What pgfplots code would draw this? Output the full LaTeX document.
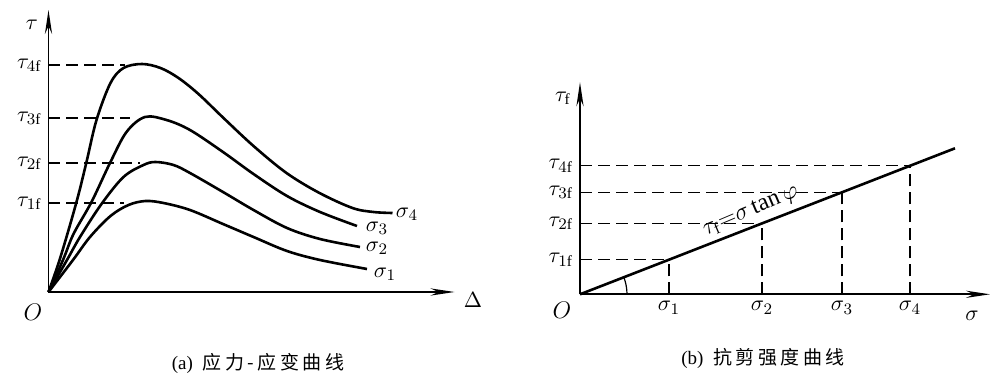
\documentclass[border=0pt]{standalone}
\usepackage{fontspec}
\setmainfont{Liberation Serif}
\newfontfamily\cjk[LetterSpace=18]{Noto Sans CJK SC}
\usepackage{pgfplots}
\pgfplotsset{compat=1.18}
\usetikzlibrary{arrows.meta}

\pgfplotsset{
  schem/.style={
    x=0.5pt, y=0.5pt,
    axis lines=middle,
    enlargelimits=false,
    clip=false,
    axis line style={line width=0.8pt, -{Stealth[length=12pt,width=3.6pt]}},
    major tick length=0pt,
    tick label style={font=\fontsize{11}{13}\selectfont},
    anchor=south west,
  },
  curve/.style={line width=1.3pt, smooth, tension=0.55, black, no marks},
  dsh/.style={line width=0.7pt, dash pattern=on 6pt off 3pt, black, no marks},
}

\begin{document}
\begin{tikzpicture}[x=1pt,y=1pt]
\useasboundingbox (0,0) rectangle (504,192.5);

% ---------------- (a) stress-strain curves ----------------
\begin{axis}[schem, at={(24.25pt,46.5pt)},
  xmin=0, xmax=406, ymin=0, ymax=282,
  xtick=\empty,
  ytick={89,129,174,227},
  yticklabels={$\tau_{1\mathrm{f}}$,$\tau_{2\mathrm{f}}$,$\tau_{3\mathrm{f}}$,$\tau_{4\mathrm{f}}$},
]
\addplot[dsh] coordinates {(0,227) (77,227)};
\addplot[dsh] coordinates {(0,174) (82,174)};
\addplot[dsh] coordinates {(0,129) (92,129)};
\addplot[dsh] coordinates {(0,89) (76,89)};

\addplot[curve] coordinates {(0,0) (12,35) (28,90) (38,130) (48,172) (62,209) (75,224) (93.5,228) (112,224) (130,214) (150,198) (175,174) (205,146) (238,119) (271,99) (304,84) (325,80) (344,79)};
\addplot[curve] coordinates {(0,0) (14.5,32) (25,58) (43,90) (61.5,129) (78,160) (96.5,175) (118,172) (141.5,162) (174.5,140) (205,118) (238.5,96) (271.5,80) (308.5,66)};
\addplot[curve] coordinates {(0,0) (18.5,32) (31.5,55) (53,88) (75,115) (95,127) (107,130) (125,127) (141.5,119) (174.5,100) (205,82) (238.5,64) (271.5,53) (311.5,45)};
\addplot[curve] coordinates {(0,0) (24.5,32) (41.5,55) (62,76) (80,87) (97,91) (115,89) (141.5,82) (174.5,68) (205,55) (238.5,41) (271.5,32) (318.5,23)};

\node[font=\fontsize{11}{13}\selectfont] at (axis cs:358.5,78) {$\sigma_4$};
\node[font=\fontsize{11}{13}\selectfont] at (axis cs:328.5,64) {$\sigma_3$};
\node[font=\fontsize{11}{13}\selectfont] at (axis cs:328.5,44) {$\sigma_2$};
\node[font=\fontsize{11}{13}\selectfont] at (axis cs:336.5,18) {$\sigma_1$};

\node[font=\fontsize{11}{13}\selectfont] at (axis cs:-16.5,267) {$\tau$};
\node[font=\fontsize{12}{14}\selectfont] at (axis cs:-15.5,-20) {$O$};
\node[font=\fontsize{11}{13}\selectfont] at (axis cs:424.5,-8) {$\Delta$};
\node at (axis cs:209.5,-71) {\fontsize{9.5}{11}\selectfont(a)\hspace{5pt}\cjk 应力-应变曲线};
\end{axis}

% ---------------- (b) shear strength line ----------------
\begin{axis}[schem, at={(290pt,45.35pt)},
  xmin=0, xmax=410, ymin=0, ymax=212,
  xtick={89,182,262,330},
  xticklabels={$\sigma_1$,$\sigma_2$,$\sigma_3$,$\sigma_4$},
  ytick={34.6,70.9,102,128.5},
  yticklabels={$\tau_{1\mathrm{f}}$,$\tau_{2\mathrm{f}}$,$\tau_{3\mathrm{f}}$,$\tau_{4\mathrm{f}}$},
]
\addplot[dsh] coordinates {(0,34.6) (89,34.6)};
\addplot[dsh] coordinates {(0,70.9) (182,70.9)};
\addplot[dsh] coordinates {(0,102) (262,102)};
\addplot[dsh] coordinates {(0,128.5) (330,128.5)};
\addplot[dsh] coordinates {(89,0) (89,34.6)};
\addplot[dsh] coordinates {(182,0) (182,70.9)};
\addplot[dsh] coordinates {(262,0) (262,102)};
\addplot[dsh] coordinates {(330,0) (330,128.5)};

\addplot[line width=1.3pt, black, no marks] coordinates {(0,0) (89,34.6) (182,70.9) (262,102) (330,128.5) (375,146)};

\draw[line width=0.6pt] (axis cs:47,0) arc[start angle=0, end angle=21.27, radius=23.5pt];

\node[rotate=23, anchor=south, inner sep=3pt, font=\fontsize{12}{14}\selectfont] at (axis cs:177,68.9) {$\tau_{\mathrm{f}}{=}\sigma\tan\varphi$};

\node[font=\fontsize{11}{13}\selectfont] at (axis cs:-17,196) {$\tau_{\mathrm{f}}$};
\node[font=\fontsize{12}{14}\selectfont] at (axis cs:-18,-16) {$O$};
\node[font=\fontsize{11}{13}\selectfont] at (axis cs:392,-21) {$\sigma$};
\node at (axis cs:183,-64) {\fontsize{9.5}{11}\selectfont(b)\hspace{5pt}\cjk 抗剪强度曲线};
\end{axis}
\end{tikzpicture}
\end{document}
